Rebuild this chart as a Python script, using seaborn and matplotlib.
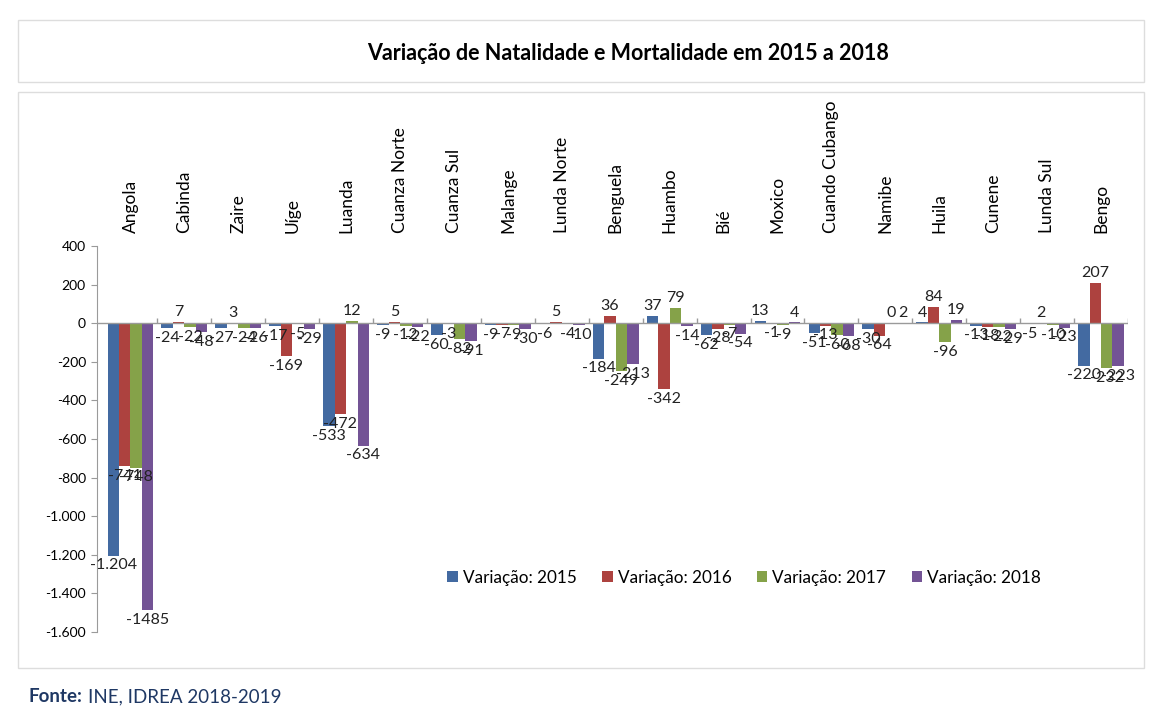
import pandas as pd
import numpy as np
import seaborn as sns
import matplotlib.pyplot as plt
from matplotlib.patches import Rectangle

# Data
provinces = ["Angola", "Cabinda", "Zaire", "Uíge", "Luanda", "Cuanza Norte", "Cuanza Sul",
             "Malange", "Lunda Norte", "Benguela", "Huambo", "Bié", "Moxico",
             "Cuando Cubango", "Namibe", "Huila", "Cunene", "Lunda Sul", "Bengo"]
var_2015 = [-1204, -24, -27, -17, -533, -9, -60, -9, -6, -184, 37, -62, 13, -51, -30, 4, -13, -5, -220]
var_2016 = [-741, 7, 3, -169, -472, 5, -3, -7, 5, 36, -342, -28, -1, -13, -64, 84, -18, 2, 207]
var_2017 = [-748, -22, -24, -5, 12, -12, -82, -9, -4, -249, 79, -7, -9, -60, 0, -96, -22, -10, -232]
var_2018 = [-1485, -48, -26, -29, -634, -22, -91, -30, -10, -213, -14, -54, 4, -68, 2, 19, -29, -23, -223]
series = ["Variação: 2015", "Variação: 2016", "Variação: 2017", "Variação: 2018"]
colors = ["#3468B0", "#C0302C", "#8AB13A", "#7248A0"]

df = pd.DataFrame({
    "Provincia": provinces * 4,
    "Serie": np.repeat(series, len(provinces)),
    "Valor": var_2015 + var_2016 + var_2017 + var_2018,
})

plt.rcParams['font.family'] = ['Lato', 'DejaVu Sans']

fig = plt.figure(figsize=(11.51, 7.27), dpi=100)
ax = fig.add_axes([0.0843, 0.1307, 0.8957, 0.5309])

sns.barplot(data=df, x="Provincia", y="Valor", hue="Serie", palette=colors,
            width=0.85, gap=0, ax=ax, legend=True)

# data labels (Excel style: "-1.204" for the thousand value)
for cont, col_vals in zip(ax.containers, [var_2015, var_2016, var_2017, var_2018]):
    labels = []
    for v in col_vals:
        s = str(v)
        if v == -1204:
            s = "-1.204"
        labels.append(s)
    ax.bar_label(cont, labels=labels, padding=2, fontsize=11.5, color="#222222")

ax.set_ylim(-1600, 400)
ax.set_yticks(np.arange(-1600, 401, 200))
ax.set_yticklabels([f"{t:,}".replace(",", ".") for t in range(-1600, 401, 200)], fontsize=10)
ax.set_xlim(-0.62, len(provinces) - 0.5)
ax.set_xticks([])
ax.set_xlabel("")
ax.set_ylabel("")
for s in ["top", "right", "bottom"]:
    ax.spines[s].set_visible(False)
ax.spines["left"].set_color("#9a9a9a")
ax.tick_params(axis="y", length=4, color="#9a9a9a", pad=4)
ax.axhline(0, color="#9a9a9a", lw=1)
ax.vlines(np.arange(len(provinces)) + 0.5, 0, 25, color="#9a9a9a", lw=1)

# category labels above the plot
for i, p in enumerate(provinces):
    ax.text(i, 1.035, p, transform=ax.get_xaxis_transform(), rotation=90,
            ha="center", va="bottom", fontsize=12.5)

ax.legend(loc="lower left", bbox_to_anchor=(0.325, 0.08), ncol=4, frameon=False,
          fontsize=12.3, handlelength=0.6, handleheight=0.6, columnspacing=1.5, handletextpad=0.3)

# frames
fig.patches.append(Rectangle((18 / 1151, 1 - 82 / 727), 1126 / 1151, 62 / 727,
                             transform=fig.transFigure, fill=False, ec="#dddddd", lw=1))
fig.patches.append(Rectangle((18 / 1151, 1 - 668 / 727), 1126 / 1151, 576 / 727,
                             transform=fig.transFigure, fill=False, ec="#dddddd", lw=1))

fig.text(628 / 1151, 1 - 53 / 727, "Variação de Natalidade e Mortalidade em 2015 a 2018",
         ha="center", va="center", fontsize=15.5, fontweight="bold")
fig.text(28 / 1151, 1 - 697 / 727, "Fonte:", ha="left", va="center",
         fontsize=13.5, fontweight="bold", color="#1F3864")
fig.text(88 / 1151, 1 - 697 / 727, "INE, IDREA 2018-2019", ha="left", va="center",
         fontsize=13.5, color="#1F3864")

plt.savefig("out.png", dpi=100)
